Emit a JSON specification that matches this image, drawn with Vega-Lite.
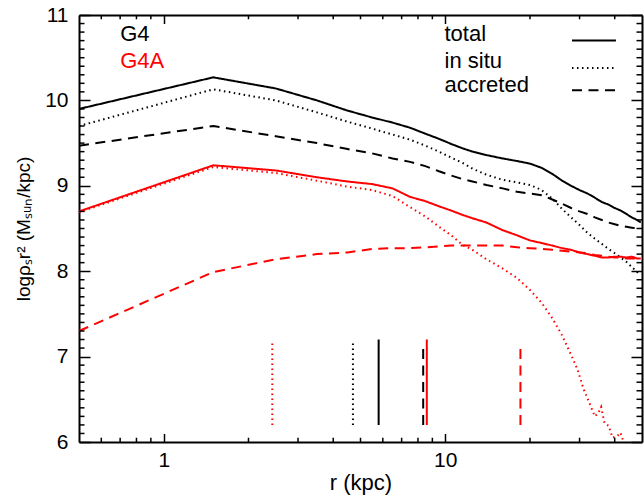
{
  "$schema": "https://vega.github.io/schema/vega-lite/v6.json",
  "width": 563,
  "height": 427,
  "autosize": {"type": "none"},
  "padding": {"left": 79, "top": 15, "right": 2, "bottom": 58},
  "background": "white",
  "config": {
    "view": {"stroke": null},
    "font": "Liberation Sans",
    "axis": {
      "grid": false,
      "domainColor": "#000000",
      "tickColor": "#000000",
      "labelColor": "#000000",
      "titleColor": "#000000",
      "titleFontWeight": "normal",
      "domainWidth": 2,
      "tickWidth": 1.5
    }
  },
  "datasets": {
    "profiles": [
      {"run": "G4", "comp": "total", "r": 0.5, "v": 9.90},
      {"run": "G4", "comp": "total", "r": 1.5, "v": 10.27},
      {"run": "G4", "comp": "total", "r": 2.5, "v": 10.14},
      {"run": "G4", "comp": "total", "r": 3.5, "v": 10.00},
      {"run": "G4", "comp": "total", "r": 4.5, "v": 9.88},
      {"run": "G4", "comp": "total", "r": 5.5, "v": 9.80},
      {"run": "G4", "comp": "total", "r": 6.5, "v": 9.74},
      {"run": "G4", "comp": "total", "r": 7.5, "v": 9.68},
      {"run": "G4", "comp": "total", "r": 8.5, "v": 9.61},
      {"run": "G4", "comp": "total", "r": 9.5, "v": 9.55},
      {"run": "G4", "comp": "total", "r": 10.5, "v": 9.49},
      {"run": "G4", "comp": "total", "r": 11.5, "v": 9.44},
      {"run": "G4", "comp": "total", "r": 12.5, "v": 9.40},
      {"run": "G4", "comp": "total", "r": 14, "v": 9.36},
      {"run": "G4", "comp": "total", "r": 16, "v": 9.32},
      {"run": "G4", "comp": "total", "r": 18, "v": 9.29},
      {"run": "G4", "comp": "total", "r": 20, "v": 9.26},
      {"run": "G4", "comp": "total", "r": 22, "v": 9.21},
      {"run": "G4", "comp": "total", "r": 24, "v": 9.14},
      {"run": "G4", "comp": "total", "r": 26, "v": 9.06},
      {"run": "G4", "comp": "total", "r": 28, "v": 9.00},
      {"run": "G4", "comp": "total", "r": 30, "v": 8.95},
      {"run": "G4", "comp": "total", "r": 32, "v": 8.91},
      {"run": "G4", "comp": "total", "r": 34, "v": 8.86},
      {"run": "G4", "comp": "total", "r": 36, "v": 8.81},
      {"run": "G4", "comp": "total", "r": 38, "v": 8.78},
      {"run": "G4", "comp": "total", "r": 40, "v": 8.74},
      {"run": "G4", "comp": "total", "r": 42, "v": 8.71},
      {"run": "G4", "comp": "total", "r": 44, "v": 8.67},
      {"run": "G4", "comp": "total", "r": 46, "v": 8.63},
      {"run": "G4", "comp": "total", "r": 48, "v": 8.60},
      {"run": "G4", "comp": "total", "r": 49.5, "v": 8.57},

      {"run": "G4", "comp": "in situ", "r": 0.5, "v": 9.70},
      {"run": "G4", "comp": "in situ", "r": 1.5, "v": 10.13},
      {"run": "G4", "comp": "in situ", "r": 2.5, "v": 10.00},
      {"run": "G4", "comp": "in situ", "r": 3.5, "v": 9.86},
      {"run": "G4", "comp": "in situ", "r": 4.5, "v": 9.75},
      {"run": "G4", "comp": "in situ", "r": 5.5, "v": 9.67},
      {"run": "G4", "comp": "in situ", "r": 6.5, "v": 9.60},
      {"run": "G4", "comp": "in situ", "r": 7.5, "v": 9.54},
      {"run": "G4", "comp": "in situ", "r": 8.5, "v": 9.47},
      {"run": "G4", "comp": "in situ", "r": 9.5, "v": 9.40},
      {"run": "G4", "comp": "in situ", "r": 10.5, "v": 9.33},
      {"run": "G4", "comp": "in situ", "r": 11.5, "v": 9.27},
      {"run": "G4", "comp": "in situ", "r": 12.5, "v": 9.20},
      {"run": "G4", "comp": "in situ", "r": 14, "v": 9.13},
      {"run": "G4", "comp": "in situ", "r": 16, "v": 9.07},
      {"run": "G4", "comp": "in situ", "r": 18, "v": 9.04},
      {"run": "G4", "comp": "in situ", "r": 20, "v": 9.01},
      {"run": "G4", "comp": "in situ", "r": 22, "v": 8.95},
      {"run": "G4", "comp": "in situ", "r": 24, "v": 8.85},
      {"run": "G4", "comp": "in situ", "r": 26, "v": 8.73},
      {"run": "G4", "comp": "in situ", "r": 28, "v": 8.63},
      {"run": "G4", "comp": "in situ", "r": 30, "v": 8.54},
      {"run": "G4", "comp": "in situ", "r": 32, "v": 8.45},
      {"run": "G4", "comp": "in situ", "r": 34, "v": 8.38},
      {"run": "G4", "comp": "in situ", "r": 36, "v": 8.32},
      {"run": "G4", "comp": "in situ", "r": 38, "v": 8.26},
      {"run": "G4", "comp": "in situ", "r": 40, "v": 8.21},
      {"run": "G4", "comp": "in situ", "r": 42, "v": 8.16},
      {"run": "G4", "comp": "in situ", "r": 44, "v": 8.11},
      {"run": "G4", "comp": "in situ", "r": 46, "v": 8.05},
      {"run": "G4", "comp": "in situ", "r": 48, "v": 7.99},
      {"run": "G4", "comp": "in situ", "r": 49.5, "v": 7.96},

      {"run": "G4", "comp": "accreted", "r": 0.5, "v": 9.47},
      {"run": "G4", "comp": "accreted", "r": 1.5, "v": 9.70},
      {"run": "G4", "comp": "accreted", "r": 2.5, "v": 9.58},
      {"run": "G4", "comp": "accreted", "r": 3.5, "v": 9.50},
      {"run": "G4", "comp": "accreted", "r": 4.5, "v": 9.43},
      {"run": "G4", "comp": "accreted", "r": 5.5, "v": 9.38},
      {"run": "G4", "comp": "accreted", "r": 6.5, "v": 9.32},
      {"run": "G4", "comp": "accreted", "r": 7.5, "v": 9.28},
      {"run": "G4", "comp": "accreted", "r": 8.5, "v": 9.23},
      {"run": "G4", "comp": "accreted", "r": 9.5, "v": 9.17},
      {"run": "G4", "comp": "accreted", "r": 10.5, "v": 9.12},
      {"run": "G4", "comp": "accreted", "r": 11.5, "v": 9.08},
      {"run": "G4", "comp": "accreted", "r": 12.5, "v": 9.05},
      {"run": "G4", "comp": "accreted", "r": 14, "v": 9.01},
      {"run": "G4", "comp": "accreted", "r": 16, "v": 8.97},
      {"run": "G4", "comp": "accreted", "r": 18, "v": 8.93},
      {"run": "G4", "comp": "accreted", "r": 20, "v": 8.91},
      {"run": "G4", "comp": "accreted", "r": 22, "v": 8.89},
      {"run": "G4", "comp": "accreted", "r": 24, "v": 8.84},
      {"run": "G4", "comp": "accreted", "r": 26, "v": 8.79},
      {"run": "G4", "comp": "accreted", "r": 28, "v": 8.74},
      {"run": "G4", "comp": "accreted", "r": 30, "v": 8.70},
      {"run": "G4", "comp": "accreted", "r": 32, "v": 8.67},
      {"run": "G4", "comp": "accreted", "r": 34, "v": 8.63},
      {"run": "G4", "comp": "accreted", "r": 36, "v": 8.60},
      {"run": "G4", "comp": "accreted", "r": 38, "v": 8.57},
      {"run": "G4", "comp": "accreted", "r": 40, "v": 8.55},
      {"run": "G4", "comp": "accreted", "r": 42, "v": 8.53},
      {"run": "G4", "comp": "accreted", "r": 44, "v": 8.52},
      {"run": "G4", "comp": "accreted", "r": 46, "v": 8.51},
      {"run": "G4", "comp": "accreted", "r": 48, "v": 8.50},
      {"run": "G4", "comp": "accreted", "r": 49.5, "v": 8.49},

      {"run": "G4A", "comp": "total", "r": 0.5, "v": 8.70},
      {"run": "G4A", "comp": "total", "r": 1.5, "v": 9.24},
      {"run": "G4A", "comp": "total", "r": 2.5, "v": 9.18},
      {"run": "G4A", "comp": "total", "r": 3.5, "v": 9.10},
      {"run": "G4A", "comp": "total", "r": 4.5, "v": 9.05},
      {"run": "G4A", "comp": "total", "r": 5.5, "v": 9.02},
      {"run": "G4A", "comp": "total", "r": 6.5, "v": 8.97},
      {"run": "G4A", "comp": "total", "r": 7.5, "v": 8.87},
      {"run": "G4A", "comp": "total", "r": 8.5, "v": 8.82},
      {"run": "G4A", "comp": "total", "r": 9.5, "v": 8.76},
      {"run": "G4A", "comp": "total", "r": 10.5, "v": 8.71},
      {"run": "G4A", "comp": "total", "r": 11.5, "v": 8.66},
      {"run": "G4A", "comp": "total", "r": 12.5, "v": 8.62},
      {"run": "G4A", "comp": "total", "r": 14, "v": 8.57},
      {"run": "G4A", "comp": "total", "r": 16, "v": 8.48},
      {"run": "G4A", "comp": "total", "r": 18, "v": 8.42},
      {"run": "G4A", "comp": "total", "r": 20, "v": 8.36},
      {"run": "G4A", "comp": "total", "r": 22, "v": 8.33},
      {"run": "G4A", "comp": "total", "r": 24, "v": 8.30},
      {"run": "G4A", "comp": "total", "r": 26, "v": 8.27},
      {"run": "G4A", "comp": "total", "r": 28, "v": 8.25},
      {"run": "G4A", "comp": "total", "r": 30, "v": 8.22},
      {"run": "G4A", "comp": "total", "r": 32, "v": 8.20},
      {"run": "G4A", "comp": "total", "r": 34, "v": 8.18},
      {"run": "G4A", "comp": "total", "r": 36, "v": 8.16},
      {"run": "G4A", "comp": "total", "r": 38, "v": 8.16},
      {"run": "G4A", "comp": "total", "r": 40, "v": 8.17},
      {"run": "G4A", "comp": "total", "r": 42, "v": 8.17},
      {"run": "G4A", "comp": "total", "r": 44, "v": 8.16},
      {"run": "G4A", "comp": "total", "r": 46, "v": 8.17},
      {"run": "G4A", "comp": "total", "r": 48, "v": 8.15},
      {"run": "G4A", "comp": "total", "r": 49.5, "v": 8.15},

      {"run": "G4A", "comp": "in situ", "r": 0.5, "v": 8.69},
      {"run": "G4A", "comp": "in situ", "r": 1.5, "v": 9.22},
      {"run": "G4A", "comp": "in situ", "r": 2.5, "v": 9.15},
      {"run": "G4A", "comp": "in situ", "r": 3.5, "v": 9.06},
      {"run": "G4A", "comp": "in situ", "r": 4.5, "v": 8.99},
      {"run": "G4A", "comp": "in situ", "r": 5.5, "v": 8.95},
      {"run": "G4A", "comp": "in situ", "r": 6.5, "v": 8.88},
      {"run": "G4A", "comp": "in situ", "r": 7.5, "v": 8.75},
      {"run": "G4A", "comp": "in situ", "r": 8.5, "v": 8.64},
      {"run": "G4A", "comp": "in situ", "r": 9.5, "v": 8.52},
      {"run": "G4A", "comp": "in situ", "r": 10.5, "v": 8.42},
      {"run": "G4A", "comp": "in situ", "r": 11.5, "v": 8.31},
      {"run": "G4A", "comp": "in situ", "r": 12.5, "v": 8.25},
      {"run": "G4A", "comp": "in situ", "r": 14, "v": 8.14},
      {"run": "G4A", "comp": "in situ", "r": 16, "v": 8.03},
      {"run": "G4A", "comp": "in situ", "r": 18, "v": 7.92},
      {"run": "G4A", "comp": "in situ", "r": 20, "v": 7.78},
      {"run": "G4A", "comp": "in situ", "r": 22, "v": 7.63},
      {"run": "G4A", "comp": "in situ", "r": 24, "v": 7.45},
      {"run": "G4A", "comp": "in situ", "r": 26, "v": 7.25},
      {"run": "G4A", "comp": "in situ", "r": 28, "v": 7.02},
      {"run": "G4A", "comp": "in situ", "r": 29.5, "v": 6.85},
      {"run": "G4A", "comp": "in situ", "r": 31, "v": 6.62},
      {"run": "G4A", "comp": "in situ", "r": 32.5, "v": 6.46},
      {"run": "G4A", "comp": "in situ", "r": 34, "v": 6.30},
      {"run": "G4A", "comp": "in situ", "r": 35, "v": 6.34},
      {"run": "G4A", "comp": "in situ", "r": 35.8, "v": 6.41},
      {"run": "G4A", "comp": "in situ", "r": 36.8, "v": 6.22},
      {"run": "G4A", "comp": "in situ", "r": 38.1, "v": 6.19},
      {"run": "G4A", "comp": "in situ", "r": 39.3, "v": 6.05},
      {"run": "G4A", "comp": "in situ", "r": 40.9, "v": 6.07},
      {"run": "G4A", "comp": "in situ", "r": 41.9, "v": 6.11},
      {"run": "G4A", "comp": "in situ", "r": 43, "v": 6.00},

      {"run": "G4A", "comp": "accreted", "r": 0.5, "v": 7.30},
      {"run": "G4A", "comp": "accreted", "r": 1.5, "v": 7.99},
      {"run": "G4A", "comp": "accreted", "r": 2.5, "v": 8.14},
      {"run": "G4A", "comp": "accreted", "r": 3.5, "v": 8.20},
      {"run": "G4A", "comp": "accreted", "r": 4.5, "v": 8.22},
      {"run": "G4A", "comp": "accreted", "r": 5.5, "v": 8.26},
      {"run": "G4A", "comp": "accreted", "r": 6.5, "v": 8.27},
      {"run": "G4A", "comp": "accreted", "r": 7.5, "v": 8.27},
      {"run": "G4A", "comp": "accreted", "r": 8.5, "v": 8.28},
      {"run": "G4A", "comp": "accreted", "r": 9.5, "v": 8.29},
      {"run": "G4A", "comp": "accreted", "r": 10.5, "v": 8.30},
      {"run": "G4A", "comp": "accreted", "r": 11.5, "v": 8.30},
      {"run": "G4A", "comp": "accreted", "r": 12.5, "v": 8.30},
      {"run": "G4A", "comp": "accreted", "r": 14, "v": 8.30},
      {"run": "G4A", "comp": "accreted", "r": 16, "v": 8.30},
      {"run": "G4A", "comp": "accreted", "r": 18, "v": 8.28},
      {"run": "G4A", "comp": "accreted", "r": 20, "v": 8.27},
      {"run": "G4A", "comp": "accreted", "r": 22, "v": 8.26},
      {"run": "G4A", "comp": "accreted", "r": 24, "v": 8.25},
      {"run": "G4A", "comp": "accreted", "r": 26, "v": 8.24},
      {"run": "G4A", "comp": "accreted", "r": 28, "v": 8.23},
      {"run": "G4A", "comp": "accreted", "r": 30, "v": 8.22},
      {"run": "G4A", "comp": "accreted", "r": 32, "v": 8.21},
      {"run": "G4A", "comp": "accreted", "r": 34, "v": 8.19},
      {"run": "G4A", "comp": "accreted", "r": 36, "v": 8.18},
      {"run": "G4A", "comp": "accreted", "r": 38, "v": 8.17},
      {"run": "G4A", "comp": "accreted", "r": 40, "v": 8.16},
      {"run": "G4A", "comp": "accreted", "r": 42, "v": 8.16},
      {"run": "G4A", "comp": "accreted", "r": 44, "v": 8.15},
      {"run": "G4A", "comp": "accreted", "r": 46, "v": 8.15},
      {"run": "G4A", "comp": "accreted", "r": 48, "v": 8.15},
      {"run": "G4A", "comp": "accreted", "r": 49.5, "v": 8.15}
    ],
    "markers": [
      {"run": "G4", "comp": "total", "r": 5.8, "lo": 6.2, "hi": 7.2},
      {"run": "G4", "comp": "in situ", "r": 4.7, "lo": 6.2, "hi": 7.16},
      {"run": "G4", "comp": "accreted", "r": 8.35, "lo": 6.2, "hi": 7.13},
      {"run": "G4A", "comp": "total", "r": 8.6, "lo": 6.2, "hi": 7.2},
      {"run": "G4A", "comp": "in situ", "r": 2.43, "lo": 6.2, "hi": 7.16},
      {"run": "G4A", "comp": "accreted", "r": 18.5, "lo": 6.2, "hi": 7.13}
    ],
    "runKey": [
      {"run": "G4", "r": 0.7, "v": 10.69},
      {"run": "G4A", "r": 0.7, "v": 10.38}
    ],
    "compKey": [
      {"comp": "total", "r": 9.94, "v": 10.69, "ra": 28.2, "rb": 40.4, "lv": 10.70},
      {"comp": "in situ", "r": 9.94, "v": 10.38, "ra": 28.2, "rb": 40.4, "lv": 10.38},
      {"comp": "accreted", "r": 9.94, "v": 10.10, "ra": 28.2, "rb": 40.4, "lv": 10.12}
    ],
    "xminor": [
      {"r": 0.6}, {"r": 0.7}, {"r": 0.8}, {"r": 0.9},
      {"r": 2}, {"r": 3}, {"r": 4}, {"r": 5}, {"r": 6}, {"r": 7}, {"r": 8}, {"r": 9},
      {"r": 20}, {"r": 30}, {"r": 40}
    ],
    "yminor": [
      {"v": 6.1}, {"v": 6.2}, {"v": 6.3}, {"v": 6.4}, {"v": 6.5}, {"v": 6.6}, {"v": 6.7}, {"v": 6.8}, {"v": 6.9},
      {"v": 7.1}, {"v": 7.2}, {"v": 7.3}, {"v": 7.4}, {"v": 7.5}, {"v": 7.6}, {"v": 7.7}, {"v": 7.8}, {"v": 7.9},
      {"v": 8.1}, {"v": 8.2}, {"v": 8.3}, {"v": 8.4}, {"v": 8.5}, {"v": 8.6}, {"v": 8.7}, {"v": 8.8}, {"v": 8.9},
      {"v": 9.1}, {"v": 9.2}, {"v": 9.3}, {"v": 9.4}, {"v": 9.5}, {"v": 9.6}, {"v": 9.7}, {"v": 9.8}, {"v": 9.9},
      {"v": 10.1}, {"v": 10.2}, {"v": 10.3}, {"v": 10.4}, {"v": 10.5}, {"v": 10.6}, {"v": 10.7}, {"v": 10.8}, {"v": 10.9}
    ]
  },
  "layer": [
    {
      "data": {"name": "profiles"},
      "mark": {"type": "line", "strokeWidth": 2},
      "encoding": {
        "x": {
          "field": "r", "type": "quantitative",
          "scale": {"type": "log", "domain": [0.5, 50], "nice": false},
          "axis": {"orient": "bottom", "values": [1, 10], "format": "~g", "title": "r (kpc)",
                   "tickSize": -8.5, "labelPadding": 16, "labelFontSize": 21, "titleFontSize": 22, "titlePadding": 2}
        },
        "y": {
          "field": "v", "type": "quantitative",
          "scale": {"domain": [6, 11], "nice": false, "zero": false},
          "axis": {"orient": "left", "values": [6, 7, 8, 9, 10, 11], "format": "~g", "title": "logρₛr² (Mₛᵤₙ/kpc)",
                   "tickSize": -11, "labelPadding": 22, "labelFontSize": 21, "titleFontSize": 19, "titlePadding": 11}
        },
        "color": {"field": "run", "type": "nominal", "scale": {"domain": ["G4", "G4A"], "range": ["#000000", "#ff0000"]}, "legend": null},
        "strokeDash": {"field": "comp", "type": "nominal", "scale": {"domain": ["total", "in situ", "accreted"], "range": [[1, 0], [1.5, 3.5], [10, 6.5]]}, "legend": null}
      }
    },
    {
      "data": {"name": "runKey"},
      "mark": {"type": "text", "align": "left", "baseline": "alphabetic", "fontSize": 22},
      "encoding": {
        "x": {
          "field": "r", "type": "quantitative",
          "scale": {"type": "log", "domain": [0.5, 50], "nice": false},
          "axis": {"orient": "top", "values": [1, 10], "labels": false, "title": null, "tickSize": -8.5}
        },
        "y": {
          "field": "v", "type": "quantitative",
          "scale": {"domain": [6, 11], "nice": false, "zero": false},
          "axis": {"orient": "right", "values": [6, 7, 8, 9, 10, 11], "labels": false, "title": null, "tickSize": -11}
        },
        "text": {"field": "run"},
        "color": {"field": "run", "type": "nominal", "scale": {"domain": ["G4", "G4A"], "range": ["#000000", "#ff0000"]}, "legend": null}
      }
    },
    {
      "data": {"name": "markers"},
      "mark": {"type": "rule", "strokeWidth": 2},
      "encoding": {
        "x": {"field": "r", "type": "quantitative", "scale": {"type": "log", "domain": [0.5, 50], "nice": false}, "axis": null},
        "y": {"field": "lo", "type": "quantitative", "scale": {"domain": [6, 11], "nice": false, "zero": false}, "axis": null},
        "y2": {"field": "hi"},
        "color": {"field": "run", "type": "nominal", "scale": {"domain": ["G4", "G4A"], "range": ["#000000", "#ff0000"]}, "legend": null},
        "strokeDash": {"field": "comp", "type": "nominal", "scale": {"domain": ["total", "in situ", "accreted"], "range": [[1, 0], [1.5, 3.5], [10, 6.5]]}, "legend": null}
      }
    },
    {
      "data": {"name": "compKey"},
      "mark": {"type": "text", "align": "left", "baseline": "alphabetic", "fontSize": 22, "color": "#000000"},
      "encoding": {
        "x": {"field": "r", "type": "quantitative", "scale": {"type": "log", "domain": [0.5, 50], "nice": false}, "axis": null},
        "y": {"field": "v", "type": "quantitative", "scale": {"domain": [6, 11], "nice": false, "zero": false}, "axis": null},
        "text": {"field": "comp"}
      }
    },
    {
      "data": {"name": "compKey"},
      "mark": {"type": "rule", "strokeWidth": 2, "color": "#000000"},
      "encoding": {
        "x": {"field": "ra", "type": "quantitative", "scale": {"type": "log", "domain": [0.5, 50], "nice": false}, "axis": null},
        "x2": {"field": "rb"},
        "y": {"field": "lv", "type": "quantitative", "scale": {"domain": [6, 11], "nice": false, "zero": false}, "axis": null},
        "strokeDash": {"field": "comp", "type": "nominal", "scale": {"domain": ["total", "in situ", "accreted"], "range": [[1, 0], [1.5, 3.5], [10, 6.5]]}, "legend": null}
      }
    },
    {
      "data": {"name": "xminor"},
      "mark": {"type": "rule", "strokeWidth": 1.5, "color": "#000000"},
      "encoding": {
        "x": {"field": "r", "type": "quantitative", "scale": {"type": "log", "domain": [0.5, 50], "nice": false}, "axis": null},
        "y": {"datum": 6, "type": "quantitative", "scale": {"domain": [6, 11], "nice": false, "zero": false}, "axis": null},
        "y2": {"datum": 6.05}
      }
    },
    {
      "data": {"name": "xminor"},
      "mark": {"type": "rule", "strokeWidth": 1.5, "color": "#000000"},
      "encoding": {
        "x": {"field": "r", "type": "quantitative", "scale": {"type": "log", "domain": [0.5, 50], "nice": false}, "axis": null},
        "y": {"datum": 11, "type": "quantitative", "scale": {"domain": [6, 11], "nice": false, "zero": false}, "axis": null},
        "y2": {"datum": 10.95}
      }
    },
    {
      "data": {"name": "yminor"},
      "mark": {"type": "rule", "strokeWidth": 1.5, "color": "#000000"},
      "encoding": {
        "y": {"field": "v", "type": "quantitative", "scale": {"domain": [6, 11], "nice": false, "zero": false}, "axis": null},
        "x": {"datum": 0.5, "type": "quantitative", "scale": {"type": "log", "domain": [0.5, 50], "nice": false}, "axis": null},
        "x2": {"datum": 0.523}
      }
    },
    {
      "data": {"name": "yminor"},
      "mark": {"type": "rule", "strokeWidth": 1.5, "color": "#000000"},
      "encoding": {
        "y": {"field": "v", "type": "quantitative", "scale": {"domain": [6, 11], "nice": false, "zero": false}, "axis": null},
        "x": {"datum": 50, "type": "quantitative", "scale": {"type": "log", "domain": [0.5, 50], "nice": false}, "axis": null},
        "x2": {"datum": 47.8}
      }
    }
  ],
  "resolve": {"scale": {"x": "independent", "y": "independent"}}
}
